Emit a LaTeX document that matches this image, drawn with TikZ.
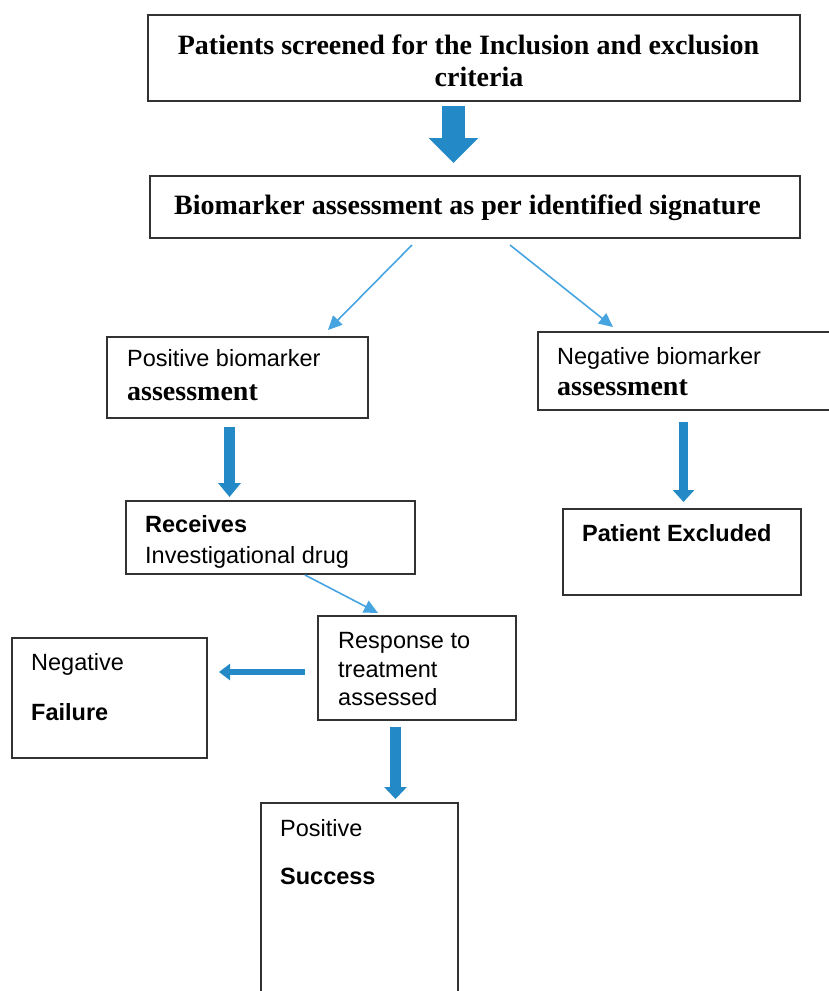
\documentclass[tikz,border=0pt]{standalone}
\usepackage{fontspec}
\setmainfont{Liberation Serif}
\newfontfamily\arialfont{Liberation Sans}
\usetikzlibrary{arrows.meta,calc}
\definecolor{boxline}{RGB}{50,50,50}
\definecolor{bigblue}{RGB}{36,138,199}
\definecolor{thinblue}{RGB}{70,165,225}
\tikzset{
  box/.style={draw=boxline, line width=1.5pt, fill=none, inner sep=0pt, outer sep=0pt, anchor=north west},
  serifbf/.style={font=\fontsize{28}{33}\selectfont\bfseries, inner sep=0pt, anchor=base},
  sanstext/.style={font=\arialfont\fontsize{23.5}{28}\selectfont, inner sep=0pt, anchor=base west},
  sansbf/.style={font=\arialfont\bfseries\fontsize{23.5}{28}\selectfont, inner sep=0pt, anchor=base west},
  seriflow/.style={font=\fontsize{28}{33}\selectfont\bfseries, inner sep=0pt, anchor=base west},
  thinarrow/.style={draw=thinblue, line width=1.6pt, -{Triangle[length=14pt,width=13pt]}},
  blockarrow/.style={draw=bigblue}
}
\begin{document}
\begin{tikzpicture}[x=1pt,y=-1pt]
\useasboundingbox (0,0) rectangle (829,991);
% boxes
\node[box, minimum width=652pt, minimum height=86pt] (b1) at (148,15) {};
\node[box, minimum width=650pt, minimum height=62pt] (b2) at (150,176) {};
\node[box, minimum width=261pt, minimum height=81pt] (b3) at (107,337) {};
\node[box, minimum width=300pt, minimum height=78pt] (b4) at (538,332) {};
\node[box, minimum width=289pt, minimum height=73pt] (b5) at (126,501) {};
\node[box, minimum width=238pt, minimum height=86pt] (b6) at (563,509) {};
\node[box, minimum width=198pt, minimum height=104pt] (b7) at (318,616) {};
\node[box, minimum width=195pt, minimum height=120pt] (b8) at (12,638) {};
\node[box, minimum width=197pt, minimum height=200pt] (b9) at (261,803) {};
% texts
\node[serifbf] (t1a) at (468.5,54) {Patients screened for the Inclusion and exclusion};
\node[serifbf] (t1b) at (479,86) {criteria};
\node[serifbf] (t2) at (467.5,214) {Biomarker assessment as per identified signature};
\node[sanstext] (t3a) at (127,366.5) {Positive biomarker};
\node[seriflow] (t3b) at (127,400) {assessment};
\node[sanstext] (t4a) at (557,364.5) {Negative biomarker};
\node[seriflow] (t4b) at (557,395.5) {assessment};
\node[sansbf] (t5a) at (145,532.5) {Receives};
\node[sanstext] (t5b) at (145,563) {Investigational drug};
\node[sansbf] (t6) at (582,541.5) {Patient Excluded};
\node[sanstext] (t7a) at (338,648.5) {Response to};
\node[sanstext] (t7b) at (338,677.5) {treatment};
\node[sanstext] (t7c) at (338,705.5) {assessed};
\node[sanstext] (t8a) at (31,670.5) {Negative};
\node[sansbf] (t8b) at (31,720.5) {Failure};
\node[sanstext] (t9a) at (280,836.5) {Positive};
\node[sansbf] (t9b) at (280,884.5) {Success};
% block arrows
\draw[blockarrow, line width=23pt, -{Triangle[length=25pt,width=48pt]}]
  ($(b1.south)+(-20.5,5)$) -- ($(b2.north)+(-21.5,-13)$);
\draw[blockarrow, line width=11pt, -{Triangle[length=14pt,width=22pt]}]
  ($(b3.south)+(-8,9)$) -- ($(b5.north)+(-41,-4)$);
\draw[blockarrow, line width=9.5pt, -{Triangle[length=12pt,width=21pt]}]
  ($(b6.north |- b4.south)+(1.5,12)$) -- ($(b6.north)+(1.5,-7)$);
\draw[blockarrow, line width=11pt, -{Triangle[length=12pt,width=22pt]}]
  ($(b7.south)+(-21.5,7)$) -- ($(b9.north)+(36,-4)$);
\draw[blockarrow, line width=6pt, -{Triangle[length=11pt,width=16pt]}]
  ($(b7.west)+(-13,4)$) -- ($(b8.east)+(12,-26)$);
% thin arrows
\draw[thinarrow] ($(b2.south)+(-63,7)$) -- ($(b3.north)+(90.5,-7)$);
\draw[thinarrow] ($(b2.south)+(35,7)$) -- ($(b4.north west)+(75,-5)$);
\draw[thinarrow] ($(b5.south)+(34.5,1)$) -- ($(b7.north)+(-39,-3)$);
\end{tikzpicture}
\end{document}
